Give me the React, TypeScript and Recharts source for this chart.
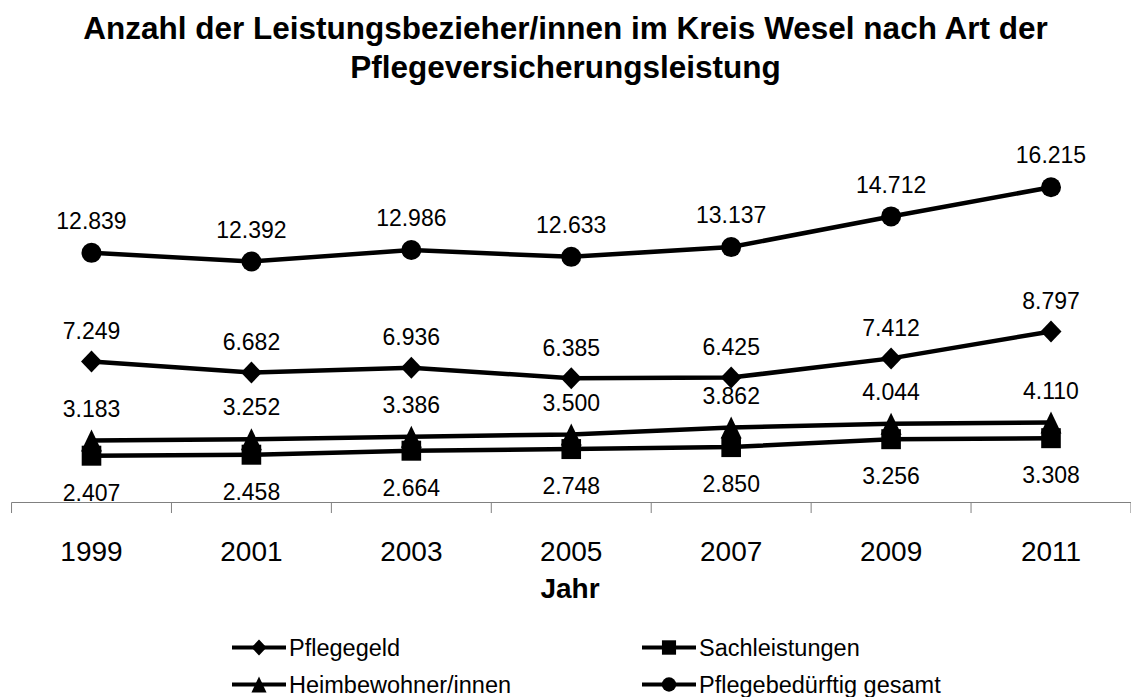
import React from 'react';
import { LineChart, Line, XAxis, YAxis, LabelList } from 'recharts';

const years = ['1999', '2001', '2003', '2005', '2007', '2009', '2011'];
const pflegegeld = [7249, 6682, 6936, 6385, 6425, 7412, 8797];
const sachleistungen = [2407, 2458, 2664, 2748, 2850, 3256, 3308];
const heimbewohner = [3183, 3252, 3386, 3500, 3862, 4044, 4110];
const gesamt = [12839, 12392, 12986, 12633, 13137, 14712, 16215];

const titleLines = ['Anzahl der Leistungsbezieher/innen im Kreis Wesel nach Art der', 'Pflegeversicherungsleistung'];
const xAxisTitle = 'Jahr';
const legendNames = ['Pflegegeld', 'Sachleistungen', 'Heimbewohner/innen', 'Pflegebedürftig gesamt'];

const data = years.map((year, i) => ({
  year,
  pflegegeld: pflegegeld[i],
  sachleistungen: sachleistungen[i],
  heimbewohner: heimbewohner[i],
  gesamt: gesamt[i],
}));

const W = 1131;
const H = 697;
const FONT = '"Liberation Sans", Arial, Helvetica, sans-serif';
const MARGIN = { top: 152.5, right: 0, bottom: 134.5, left: 11.5 };
const PAD = 80;
const AXIS_H = 60;

const fmt = (v: number) => {
  const t = Math.floor(v / 1000);
  const r = String(v % 1000).padStart(3, '0');
  return t > 0 ? `${t}.${r}` : String(v);
};

type Shape = 'diamond' | 'square' | 'triangle' | 'circle';

const Marker = ({ shape, cx, cy, s = 1 }: { shape: Shape; cx: number; cy: number; s?: number }) => {
  if (cx == null || cy == null) return null;
  if (shape === 'diamond') {
    const w = 10.5 * s, h = 11 * s;
    return <polygon points={`${cx},${cy - h} ${cx + w},${cy} ${cx},${cy + h} ${cx - w},${cy}`} fill="#000" />;
  }
  if (shape === 'square') {
    const w = 9.8 * s, h = 10 * s;
    return <rect x={cx - w} y={cy - h} width={2 * w} height={2 * h} fill="#000" />;
  }
  if (shape === 'triangle') {
    const w = 10.5 * s, h = 11 * s;
    return <polygon points={`${cx},${cy - h} ${cx + w},${cy + h} ${cx - w},${cy + h}`} fill="#000" />;
  }
  return <circle cx={cx} cy={cy} r={10 * s} fill="#000" />;
};

const makeDot = (shape: Shape) => (p: any) => (
  <Marker key={`${shape}-${p.index}`} shape={shape} cx={p.cx} cy={p.cy} />
);

const makeLabel = (dy: number) => (p: any) => {
  const { x, y, value, index } = p;
  if (x == null || y == null) return null;
  return (
    <text
      key={`lbl-${index}-${dy}`}
      x={x}
      y={y + dy + 8.2}
      textAnchor="middle"
      fontFamily={FONT}
      fontSize={23}
      fill="#000"
    >
      {fmt(Number(value))}
    </text>
  );
};

const plotW = W - MARGIN.left - MARGIN.right;
const step = (plotW - 2 * PAD) / (years.length - 1);
const half = step / 2;

const YearTick = (p: any) => {
  const { x, y, payload, index } = p;
  return (
    <g>
      <line x1={x - half} x2={x - half} y1={y} y2={y + 10.5} stroke="#808080" strokeWidth={1} />
      {index === years.length - 1 ? (
        <line x1={x + half} x2={x + half} y1={y} y2={y + 10.5} stroke="#808080" strokeWidth={1} />
      ) : null}
      <text x={x} y={y + 58.3} textAnchor="middle" fontFamily={FONT} fontSize={28} fill="#000">
        {payload.value}
      </text>
    </g>
  );
};

const legendItems: { name: string; shape: Shape; x: number; y: number }[] = [
  { name: legendNames[0], shape: 'diamond', x: 232, y: 647.5 },
  { name: legendNames[1], shape: 'square', x: 642, y: 647.5 },
  { name: legendNames[2], shape: 'triangle', x: 232, y: 684.5 },
  { name: legendNames[3], shape: 'circle', x: 642, y: 684.5 },
];

export default function App() {
  return (
    <div style={{ position: 'absolute', left: 0, top: 0, width: W, height: H, background: '#fff' }}>
      <LineChart width={W} height={H} data={data} margin={MARGIN}>
        <XAxis
          dataKey="year"
          height={AXIS_H}
          padding={{ left: PAD, right: PAD }}
          axisLine={{ stroke: '#808080', strokeWidth: 1 }}
          tickLine={false}
          tickSize={0}
          tickMargin={0}
          interval={0}
          tick={<YearTick />}
        />
        <YAxis hide domain={[0, 18000]} />
        <Line dataKey="pflegegeld" stroke="#000" strokeWidth={4.5} isAnimationActive={false} dot={makeDot('diamond')} activeDot={false}>
          <LabelList dataKey="pflegegeld" content={makeLabel(-31)} />
        </Line>
        <Line dataKey="sachleistungen" stroke="#000" strokeWidth={4.5} isAnimationActive={false} dot={makeDot('square')} activeDot={false}>
          <LabelList dataKey="sachleistungen" content={makeLabel(37)} />
        </Line>
        <Line dataKey="heimbewohner" stroke="#000" strokeWidth={4.5} isAnimationActive={false} dot={makeDot('triangle')} activeDot={false}>
          <LabelList dataKey="heimbewohner" content={makeLabel(-32)} />
        </Line>
        <Line dataKey="gesamt" stroke="#000" strokeWidth={4.5} isAnimationActive={false} dot={makeDot('circle')} activeDot={false}>
          <LabelList dataKey="gesamt" content={makeLabel(-32)} />
        </Line>
      </LineChart>
      <svg width={W} height={H} style={{ position: 'absolute', left: 0, top: 0, pointerEvents: 'none' }}>
        <text x={565.5} y={38.5} textAnchor="middle" fontFamily={FONT} fontWeight="bold" fontSize={31.5} fill="#000">
          {titleLines[0]}
        </text>
        <text x={565.5} y={78} textAnchor="middle" fontFamily={FONT} fontWeight="bold" fontSize={31.5} fill="#000">
          {titleLines[1]}
        </text>
        <text x={570} y={597.5} textAnchor="middle" fontFamily={FONT} fontWeight="bold" fontSize={28} fill="#000">
          {xAxisTitle}
        </text>
        {legendItems.map((it) => (
          <g key={it.name}>
            <line x1={it.x} x2={it.x + 54} y1={it.y} y2={it.y} stroke="#000" strokeWidth={4} />
            <Marker shape={it.shape} cx={it.x + 27} cy={it.y} s={0.72} />
            <text x={it.x + 57} y={it.y + 8.2} fontFamily={FONT} fontSize={23.5} fill="#000">
              {it.name}
            </text>
          </g>
        ))}
      </svg>
    </div>
  );
}
